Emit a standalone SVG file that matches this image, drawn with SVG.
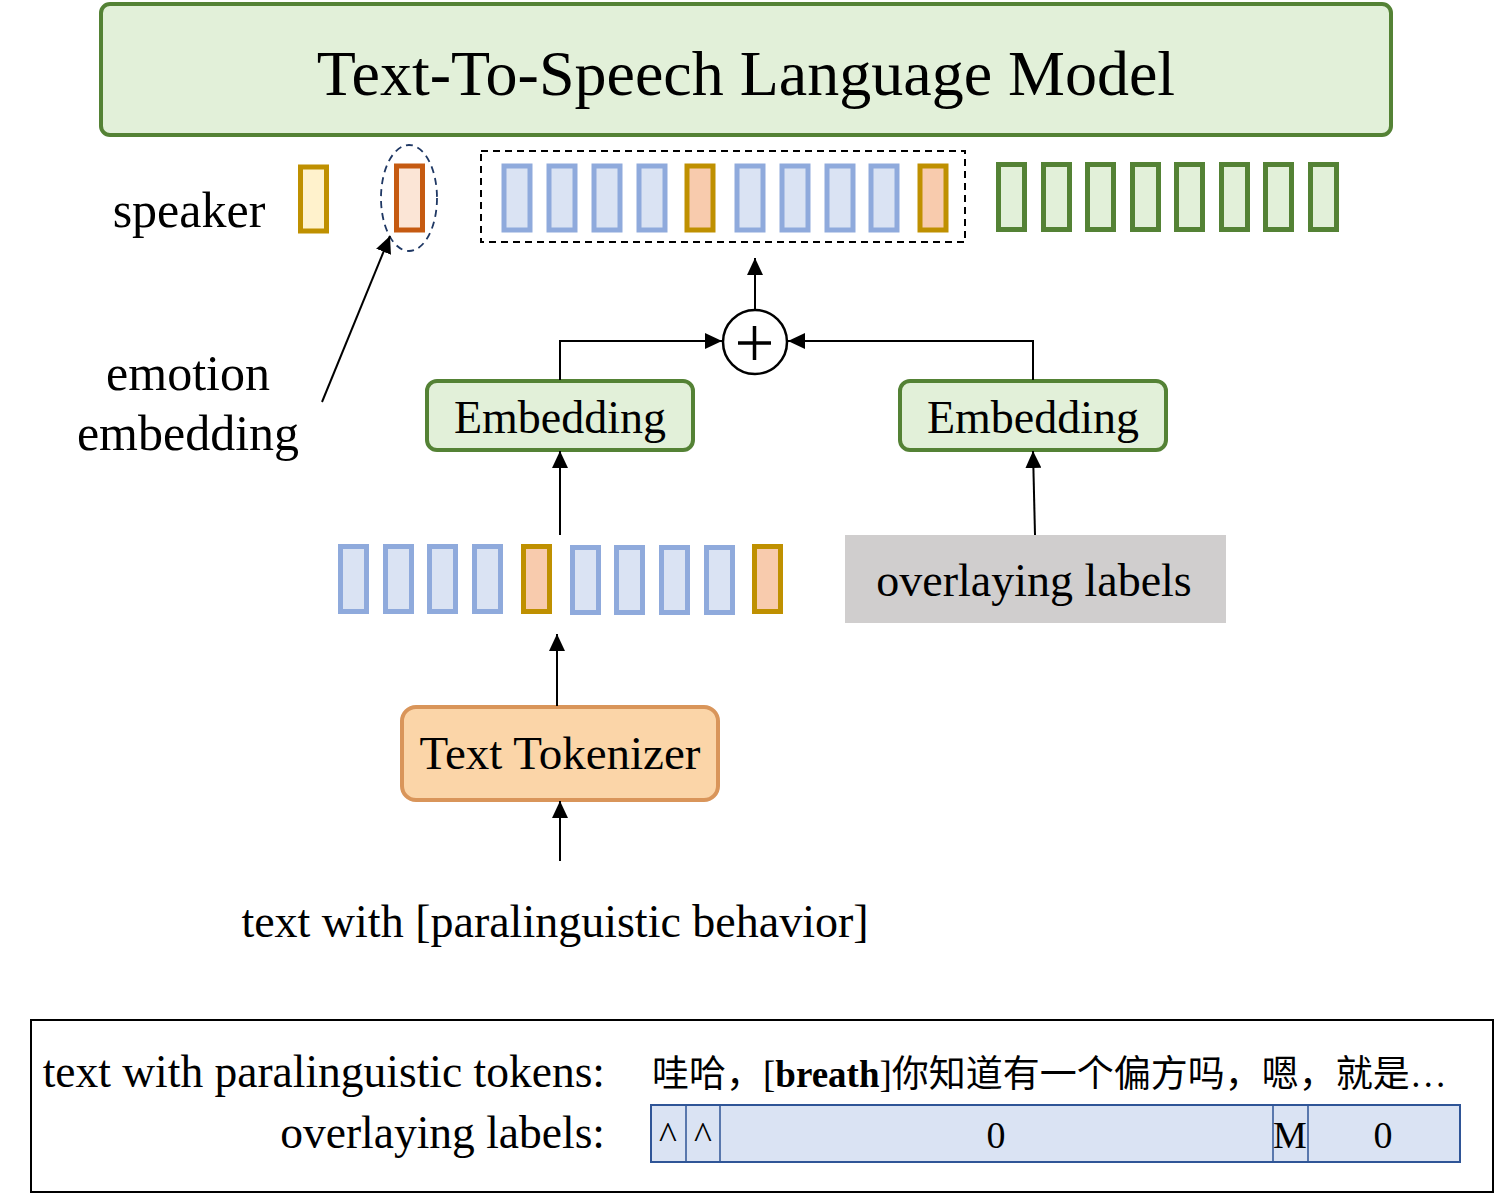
<svg xmlns="http://www.w3.org/2000/svg" width="1494" height="1196" viewBox="0 0 1494 1196">
<defs>
<marker id="ah" viewBox="0 0 17 16" refX="17" refY="8" markerWidth="17" markerHeight="16" markerUnits="userSpaceOnUse" orient="auto">
<path d="M0,0 L17,8 L0,16 Z" fill="#000"/>
</marker>
<style>
.t{font-family:"Liberation Serif","Times New Roman",serif;fill:#000}
.blue{fill:#DAE3F3;stroke:#8FAADC;stroke-width:5}
.org{fill:#F8CBAD;stroke:#BF9000;stroke-width:5}
.grn{fill:#E2F0D9;stroke:#548235;stroke-width:5}
.emb{fill:#E2F0D9;stroke:#548235;stroke-width:4}
.con{fill:none;stroke:#000;stroke-width:2}
</style>
</defs>
<rect width="1494" height="1196" fill="#fff"/>

<g id="tts-lm">
<rect x="101" y="4" width="1290" height="131" rx="9" fill="#E2F0D9" stroke="#548235" stroke-width="4"/>
<text class="t" x="746" y="95" font-size="64" text-anchor="middle">Text-To-Speech Language Model</text>
</g>

<g id="speaker">
<text class="t" x="189" y="227" font-size="50" text-anchor="middle">speaker</text>
<rect x="300.5" y="167" width="26" height="64" fill="#FFF2CC" stroke="#BF9000" stroke-width="5"/>
</g>

<g id="emotion">
<rect x="396.5" y="166" width="26" height="64" fill="#FBE5D6" stroke="#C55A11" stroke-width="5"/>
<ellipse cx="409" cy="198" rx="28" ry="53" fill="none" stroke="#1F3864" stroke-width="1.8" stroke-dasharray="7,5"/>
<text class="t" x="188" y="390" font-size="50" text-anchor="middle">emotion</text>
<text class="t" x="188" y="450" font-size="50" text-anchor="middle">embedding</text>
</g>

<g id="text-seq-top">
<rect x="481" y="151" width="484" height="91" fill="none" stroke="#000" stroke-width="2" stroke-dasharray="7,5"/>
<rect class="blue" x="504" y="166" width="26" height="64"/>
<rect class="blue" x="549" y="166" width="26" height="64"/>
<rect class="blue" x="594" y="166" width="26" height="64"/>
<rect class="blue" x="639" y="166" width="26" height="64"/>
<rect class="org" x="687" y="166" width="26" height="64"/>
<rect class="blue" x="737" y="166" width="26" height="64"/>
<rect class="blue" x="782" y="166" width="26" height="64"/>
<rect class="blue" x="827" y="166" width="26" height="64"/>
<rect class="blue" x="871" y="166" width="26" height="64"/>
<rect class="org" x="920" y="166" width="26" height="64"/>
</g>

<g id="speech-tokens">
<rect class="grn" x="998.5" y="164.5" width="26" height="65"/>
<rect class="grn" x="1043.5" y="164.5" width="26" height="65"/>
<rect class="grn" x="1087.5" y="164.5" width="26" height="65"/>
<rect class="grn" x="1132.5" y="164.5" width="26" height="65"/>
<rect class="grn" x="1176.5" y="164.5" width="26" height="65"/>
<rect class="grn" x="1221.5" y="164.5" width="26" height="65"/>
<rect class="grn" x="1265.5" y="164.5" width="26" height="65"/>
<rect class="grn" x="1310.5" y="164.5" width="26" height="65"/>
</g>

<g id="plus">
<circle cx="755" cy="342" r="32" fill="#fff" stroke="#000" stroke-width="2.5"/>
<path d="M738,343 H771 M754.5,326 V360" stroke="#000" stroke-width="3.5" fill="none"/>
</g>

<g id="embedding-left">
<rect class="emb" x="427" y="381" width="266" height="69" rx="10"/>
<text class="t" x="560" y="433" font-size="46" text-anchor="middle">Embedding</text>
</g>

<g id="embedding-right">
<rect class="emb" x="900" y="381" width="266" height="69" rx="10"/>
<text class="t" x="1033" y="433" font-size="46" text-anchor="middle">Embedding</text>
</g>

<g id="text-tokens">
<rect class="blue" x="340.5" y="546.5" width="26" height="65"/>
<rect class="blue" x="385.5" y="546.5" width="26" height="65"/>
<rect class="blue" x="429.5" y="546.5" width="26" height="65"/>
<rect class="blue" x="474.5" y="546.5" width="26" height="65"/>
<rect class="org" x="523.5" y="546.5" width="26" height="65"/>
<rect class="blue" x="572.5" y="547.5" width="26" height="65"/>
<rect class="blue" x="616.5" y="547.5" width="26" height="65"/>
<rect class="blue" x="661.5" y="547.5" width="26" height="65"/>
<rect class="blue" x="706.5" y="547.5" width="26" height="65"/>
<rect class="org" x="754.5" y="546.5" width="26" height="65"/>
</g>

<g id="overlaying-labels">
<rect x="845" y="535" width="381" height="88" fill="#D0CECE"/>
<text class="t" x="1034" y="596" font-size="46" text-anchor="middle">overlaying labels</text>
</g>

<g id="text-tokenizer">
<rect x="402" y="707" width="316" height="93" rx="14" fill="#FBD5A8" stroke="#D9955A" stroke-width="4"/>
<text class="t" x="560" y="769" font-size="47" text-anchor="middle">Text Tokenizer</text>
</g>

<g id="input-text">
<text class="t" x="555" y="937" font-size="46" text-anchor="middle">text with [paralinguistic behavior]</text>
</g>

<g id="connectors">
<line class="con" x1="322" y1="402" x2="390" y2="236" marker-end="url(#ah)"/>
<line class="con" x1="755" y1="309" x2="755" y2="258" marker-end="url(#ah)"/>
<polyline class="con" points="560,380 560,341 722,341" marker-end="url(#ah)"/>
<polyline class="con" points="1033,380 1033,341 788,341" marker-end="url(#ah)"/>
<line class="con" x1="560" y1="535" x2="560" y2="451" marker-end="url(#ah)"/>
<line class="con" x1="1035" y1="535" x2="1033" y2="451" marker-end="url(#ah)"/>
<line class="con" x1="557" y1="706" x2="557" y2="634" marker-end="url(#ah)"/>
<line class="con" x1="560" y1="861" x2="560" y2="801" marker-end="url(#ah)"/>
</g>

<g id="example">
<rect x="31" y="1020" width="1462" height="172" fill="none" stroke="#000" stroke-width="2"/>
<text class="t" x="605" y="1087" font-size="45.5" text-anchor="end">text with paralinguistic tokens:</text>
<text class="t" x="605" y="1148" font-size="45.5" text-anchor="end">overlaying labels:</text>
<text x="652" y="1087" font-size="37" style="font-family:'Liberation Serif','Noto Sans CJK SC',serif">哇哈，[<tspan font-weight="bold">breath</tspan>]你知道有一个偏方吗，嗯，就是…</text>
<rect x="651" y="1105" width="809" height="57" fill="#DAE3F3" stroke="#2F5597" stroke-width="2"/>
<path d="M686,1105 V1162 M720,1105 V1162 M1273,1105 V1162 M1308,1105 V1162" stroke="#2F5597" stroke-width="1.5"/>
<text class="t" x="668" y="1148" font-size="38" text-anchor="middle">^</text>
<text class="t" x="703" y="1148" font-size="38" text-anchor="middle">^</text>
<text class="t" x="996" y="1148" font-size="38" text-anchor="middle">0</text>
<text class="t" x="1290" y="1148" font-size="38" text-anchor="middle">M</text>
<text class="t" x="1383" y="1148" font-size="38" text-anchor="middle">0</text>
</g>
</svg>
